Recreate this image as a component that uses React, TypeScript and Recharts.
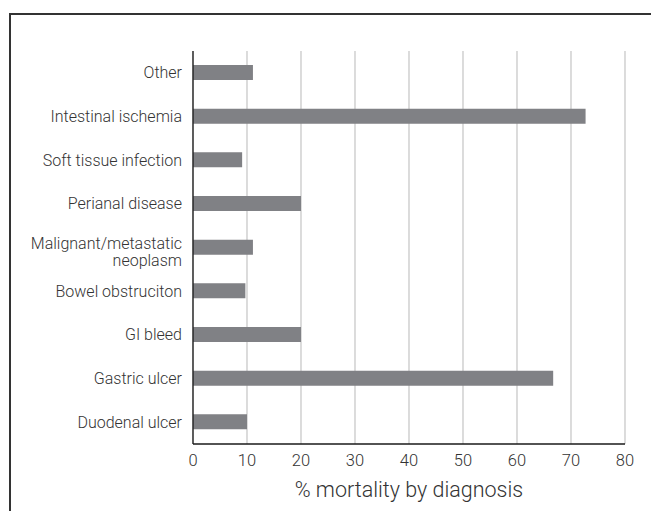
import { BarChart, Bar, XAxis, YAxis, CartesianGrid, Label } from 'recharts'

const categories = [
  'Other',
  'Intestinal ischemia',
  'Soft tissue infection',
  'Perianal disease',
  'Malignant/metastatic neoplasm',
  'Bowel obstruciton',
  'GI bleed',
  'Gastric ulcer',
  'Duodenal ulcer',
]

const mortality = [11.1, 72.7, 9.1, 20, 11.1, 9.7, 20, 66.7, 10]

const xTicks = [0, 10, 20, 30, 40, 50, 60, 70, 80]

const data = categories.map((name, i) => ({ name, value: mortality[i] }))

const FONT = 'Roboto, "Liberation Sans", sans-serif'
const TEXT = '#333333'

function CategoryTick(props: any) {
  const { x, y, payload } = props
  const label: string = payload.value
  let lines = [label]
  if (label.length > 22) {
    const cut = label.lastIndexOf(' ')
    lines = [label.slice(0, cut), label.slice(cut + 1)]
  }
  return (
    <text
      x={x}
      y={y}
      textAnchor="end"
      fill={TEXT}
      fontSize={16}
      fontWeight={300}
      fontFamily={FONT}
    >
      {lines.map((ln, i) => (
        <tspan key={i} x={x} dy={i === 0 ? (lines.length > 1 ? '0.1em' : '0.35em') : 17}>
          {ln}
        </tspan>
      ))}
    </text>
  )
}

export default function App() {
  return (
    <div style={{ position: 'relative', margin: -8, width: 659, height: 519, background: '#fff' }}>
      <div
        style={{
          position: 'absolute',
          left: 9,
          top: 13,
          right: 0,
          bottom: 0,
          borderLeft: '2px solid #333',
          borderTop: '2px solid #333',
        }}
      />
      <div style={{ position: 'absolute', left: 0, top: 0 }}>
        <BarChart
          width={659}
          height={519}
          data={data}
          layout="vertical"
          margin={{ top: 51, right: 34, bottom: 5, left: 0 }}
          barCategoryGap={0}
        >
          <CartesianGrid horizontal={false} stroke="#c4c4c4" strokeWidth={1.2} />
          <XAxis
            type="number"
            domain={[0, 80]}
            ticks={xTicks}
            height={70}
            axisLine={{ stroke: '#1a1a1a', strokeWidth: 1.3 }}
            tickLine={false}
            tickSize={6}
            tickMargin={4}
            tick={{ fill: TEXT, fontSize: 16.5, fontWeight: 300, fontFamily: FONT }}
          >
            <Label
              value="% mortality by diagnosis"
              position="insideBottom"
              offset={17}
              fill={TEXT}
              fontSize={21.5}
              fontWeight={300}
              fontFamily={FONT}
            />
          </XAxis>
          <YAxis
            type="category"
            dataKey="name"
            width={193}
            axisLine={{ stroke: '#1a1a1a', strokeWidth: 1.3 }}
            tickLine={false}
            tickSize={6}
            tickMargin={5}
            interval={0}
            tick={<CategoryTick />}
          />
          <Bar dataKey="value" fill="#808185" barSize={15} isAnimationActive={false} />
        </BarChart>
      </div>
    </div>
  )
}
